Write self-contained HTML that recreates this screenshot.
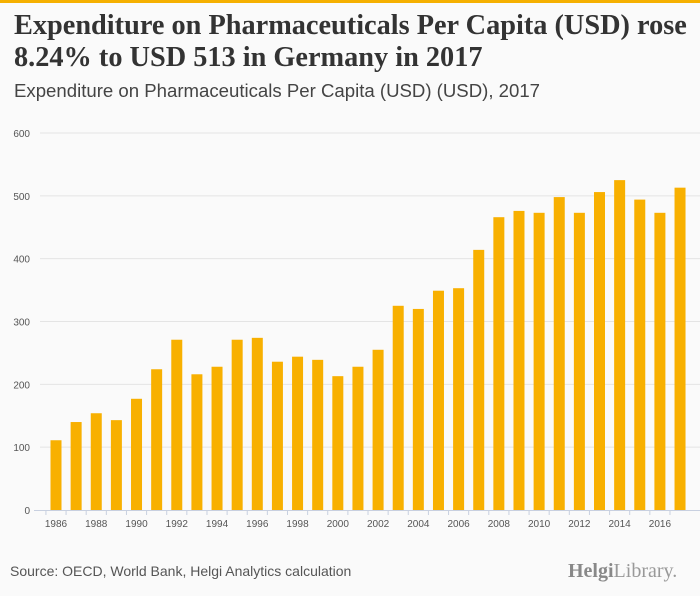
<!DOCTYPE html>
<html><head><meta charset="utf-8"><style>
body{margin:0;width:700px;height:596px;background:#fafafa;font-family:"Liberation Sans",sans-serif;overflow:hidden;position:relative}
.topbar{position:absolute;left:0;top:0;width:700px;height:3px;background:#f5b000}
h1{position:absolute;left:14px;top:10px;margin:0;font-family:"Liberation Serif",serif;font-weight:bold;font-size:28.3px;line-height:32px;color:#333;width:690px}
.sub{position:absolute;left:14px;top:80px;font-size:18.6px;color:#444}
.src{position:absolute;left:10px;top:563px;font-size:14px;color:#555}
.logo{position:absolute;left:568px;top:560px;font-size:20px;color:#999;font-family:"Liberation Serif",serif}
</style></head><body>
<div class="topbar"></div>
<h1>Expenditure on Pharmaceuticals Per Capita (USD) rose 8.24% to USD 513 in Germany in 2017</h1>
<div class="sub">Expenditure on Pharmaceuticals Per Capita (USD) (USD), 2017</div>
<svg id="chart" width="700" height="596" style="position:absolute;left:0;top:0"></svg>
<div class="src">Source: OECD, World Bank, Helgi Analytics calculation</div>
<div class="logo"><b style="color:#888">Helgi</b>Library.</div>
<script>
const years=[1986,1987,1988,1989,1990,1991,1992,1993,1994,1995,1996,1997,1998,1999,2000,2001,2002,2003,2004,2005,2006,2007,2008,2009,2010,2011,2012,2013,2014,2015,2016,2017];
const values=[111,140,154,143,177,224,271,216,228,271,274,236,244,239,213,228,255,325,320,349,353,414,466,476,473,498,473,506,525,494,473,513];
const yTicks=[0,100,200,300,400,500,600];
const NS="http://www.w3.org/2000/svg";
const svg=document.getElementById('chart');
const y0=510,yTop=133,ymax=600;
const ys=v=>y0-(v/ymax)*(y0-yTop);
const x0=56,step=20.13;
const xs=i=>x0+i*step;
function mk(t,a){const e=document.createElementNS(NS,t);for(const k in a)e.setAttribute(k,a[k]);svg.appendChild(e);return e;}
yTicks.forEach(t=>{
 if(t>0){const g=mk('line',{x1:40,x2:700,y1:ys(t),y2:ys(t),stroke:'#e4e4e4','stroke-width':1});
 
 }
 const l=mk('text',{x:30,y:ys(t)+4,'text-anchor':'end','font-size':10,fill:'#555','font-family':'Liberation Sans, sans-serif'});
 l.textContent=t;
 
 
});
values.forEach((v,i)=>{
 const b=mk('rect',{x:xs(i)-5.5,y:ys(v),width:11,height:y0-ys(v),fill:'#f8b000'});
 
 
 const tk=mk('line',{x1:xs(i)-step/2,x2:xs(i)-step/2,y1:y0,y2:y0+5,stroke:'#c8d0e0'});
 
 
 if(i%2===0){const l=mk('text',{x:xs(i),y:y0+17,'text-anchor':'middle','font-size':10,fill:'#555','font-family':'Liberation Sans, sans-serif'});
 l.textContent=years[i];
 
 }
});
const ax=mk('line',{x1:34,x2:700,y1:y0+0.5,y2:y0+0.5,stroke:'#c8d0e0'});


</script>
</body></html>
